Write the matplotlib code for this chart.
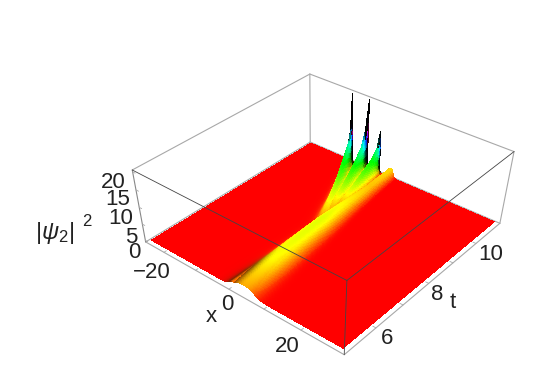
import numpy as np
import matplotlib
matplotlib.use("Agg")
import matplotlib.pyplot as plt
from matplotlib.colors import hsv_to_rgb

plt.rcParams['font.family'] = ['Liberation Sans', 'DejaVu Sans']
plt.rcParams['mathtext.fontset'] = 'custom'
plt.rcParams['mathtext.rm'] = 'Liberation Sans'
plt.rcParams['mathtext.it'] = 'Liberation Sans:italic'

# ---- data -----------------------------------------------------------
x_ticks = [-20, -10, 0, 10, 20]
x_tick_labels = ['\u221220', '0', '20']
t_ticks = [6, 7, 8, 9, 10]
t_tick_labels = ['6', '8', '10']
z_ticks = [0, 5, 10, 15, 20]
z_tick_labels = ['0', '5', '10', '15', '20']
x_box = (-26, 31)
t_box = (4.9, 11.1)
z_box = (-0.5, 20.5)
x_surface = (-25, 30)
t_surface = (5, 11)

ridge_t = [5, 6, 7, 8, 9, 10, 11]
ridge_x = [3.5, 2.9, 2.3, 1.8, 1.3, 0.9, 0.5]
ridge_h = [2.3, 3.3, 3.6, 3.7, 3.2, 2.6, 2.9]
ridge_w = [3.6, 3.2, 2.8, 2.4, 1.8, 1.3, 0.9]

finger_t = [8.0, 8.5, 9.0, 9.5, 10.0, 10.5, 10.8, 11.0]
finger_a_x = [0.5, -1.0, -2.8, -4.8, -7.0, -9.0, -10.6, -12.0]
finger_a_h = [1.5, 3.0, 4.0, 5.5, 7.0, 9.5, 13.0, 21.0]
finger_b_x = [0.8, -0.3, -1.4, -2.6, -4.0, -5.3, -6.3, -7.0]
finger_b_h = [1.0, 2.2, 3.5, 5.0, 6.5, 9.0, 12.5, 20.5]
finger_c_x = [1.0, 0.5, 0.0, -0.6, -1.3, -2.0, -2.6, -3.2]
finger_c_h = [0.5, 1.5, 2.8, 4.0, 5.5, 7.0, 9.0, 13.0]
finger_w = [1.4, 1.4, 1.3, 1.15, 0.95, 0.7, 0.45, 0.22]

flank_t = [5, 5.5, 6, 6.5, 11]
flank_gain = [0.6, 0.55, 0.3, 0.0, 0.0]

# ---- surface ---------------------------------------------------------
xg = np.arange(x_surface[0], x_surface[1] + 0.06, 0.12)
tg = np.arange(t_surface[0], t_surface[1] + 0.01, 0.025)
X, T = np.meshgrid(xg, tg)


def lump(cx, h, w):
    return h / np.cosh((X - cx) / w) ** 2


def hump(cx, h, w):
    return h * np.exp(-np.abs((X - cx) / w) ** 2.6)


Z = hump(np.interp(T, ridge_t, ridge_x), np.interp(T, ridge_t, ridge_h),
         np.interp(T, ridge_t, ridge_w))
for fx, fh in [(finger_a_x, finger_a_h), (finger_b_x, finger_b_h), (finger_c_x, finger_c_h)]:
    Z = np.maximum(Z, lump(np.interp(T, finger_t, fx), np.interp(T, finger_t, fh),
                           np.interp(T, finger_t, finger_w)))

dzdt, dzdx = np.gradient(Z, tg, xg)
hue = np.clip(Z / 20.0, 0, 1)
val = 1 - np.interp(T, flank_t, flank_gain) * np.clip(dzdx / 1.0, 0, 1)
val = val / (1 + (np.abs(dzdx) / 45.0) ** 2)
val = val / (1 + (np.abs(dzdt) / 40.0) ** 4)
val = np.clip(val, 0, 1)
rgb = hsv_to_rgb(np.dstack([hue, np.ones_like(hue), val]))
face = rgb[:-1, :-1]

# ---- figure and camera ----------------------------------------------
W, H_px = 548, 388
fig = plt.figure(figsize=(W / 100, H_px / 100), dpi=100)
side = W / H_px
ax = fig.add_axes([0, (1 - side) / 2, 1, side], projection='3d', computed_zorder=False)
ax.set_axis_off()

unit = np.array([[0, 0, 0], [1, 0, 0], [1, 1, 0], [0, 1, 0],
                 [0, 0, 1], [1, 0, 1], [1, 1, 1], [0, 1, 1]], float)
pix = np.array([[146, 242], [344, 355], [500, 223], [310, 142],
                [132, 170], [347, 280], [514, 152], [310, 74]], float)
rows = []
for (a, b, c), (u, v) in zip(unit, pix):
    rows.append([a, b, c, 1, 0, 0, 0, 0, -u * a, -u * b, -u * c, -u])
    rows.append([0, 0, 0, 0, a, b, c, 1, -v * a, -v * b, -v * c, -v])
P = np.linalg.svd(np.array(rows))[2][-1].reshape(3, 4)
if (P[2] @ np.array([.5, .5, .5, 1])) < 0:
    P = -P
scale = np.array([[1 / (x_box[1] - x_box[0]), 0, 0, -x_box[0] / (x_box[1] - x_box[0])],
                  [0, 1 / (t_box[1] - t_box[0]), 0, -t_box[0] / (t_box[1] - t_box[0])],
                  [0, 0, 1 / (z_box[1] - z_box[0]), -z_box[0] / (z_box[1] - z_box[0])],
                  [0, 0, 0, 1]])
P = P @ scale
flip = np.array([[1, 0, 0], [0, -1, H_px], [0, 0, 1]], float)


def camera():
    A = ax.transData.inverted().get_matrix() @ flip @ P
    return np.array([A[0], A[1], [0, 0, 0, -1], A[2]])


ax.get_proj = camera

edge_grey = '#a8a8a8'
edge_dark = '#444444'


def seg(xs, ts, zs, color, z, lw=0.8):
    ax.plot(xs, ts, zs, color=color, lw=lw, zorder=z, solid_capstyle='round')


xa, xb = x_box
ta, tb = t_box
za, zb = z_box
# back edges
seg([xa, xa], [tb, tb], [za, zb], edge_grey, 1)
seg([xa, xb], [tb, tb], [zb, zb], edge_grey, 1)
seg([xa, xa], [ta, tb], [zb, zb], edge_grey, 1)
seg([xa, xb], [tb, tb], [za, za], edge_grey, 1)
seg([xa, xa], [ta, tb], [za, za], edge_grey, 1)
seg([xb, xb], [tb, tb], [za, zb], edge_grey, 1)

ax.plot_surface(X, T, Z, facecolors=face, rstride=1, cstride=1, shade=False,
                linewidth=0, antialiased=False, zorder=2)

# front edges
seg([xa, xb], [ta, ta], [za, za], edge_grey, 3)
seg([xb, xb], [ta, tb], [za, za], edge_grey, 3)
seg([xa, xa], [ta, ta], [za, zb], '#888888', 3)
seg([xa, xb], [ta, ta], [zb, zb], edge_dark, 3, 0.6)
seg([xb, xb], [ta, tb], [zb, zb], edge_dark, 3, 0.6)
seg([xb, xb], [ta, ta], [za, zb], edge_dark, 3, 0.6)

for v in x_ticks:
    seg([v, v], [ta, ta + 0.08], [za, za], edge_grey, 3, 0.6)
for v in t_ticks:
    seg([xb, xb - 0.8], [v, v], [za, za], edge_grey, 3, 0.6)
for v in z_ticks:
    seg([xa, xa + 0.8], [ta, ta], [v, v], edge_grey, 3, 0.6)


def label(px, py, s, size=16, **kw):
    fig.text(px / W, 1 - py / H_px, s, ha='center', va='center', fontsize=size,
             color='#222222', **kw)


for px, py, s in zip([152, 227, 287], [272, 305, 346], x_tick_labels):
    label(px, py, s)
for px, py, s in zip([387, 437, 491], [338, 294, 254], t_tick_labels):
    label(px, py, s)
for px, py, s in zip([134, 131, 121, 118, 113], [253, 237, 218, 200, 182], z_tick_labels):
    label(px, py, s)
label(211, 316, 'x')
label(453, 303, 't')
label(55, 233, r'$|\psi_2|$', size=17)
label(87, 221, '2', size=12)

fig.savefig('out.png', dpi=100)
